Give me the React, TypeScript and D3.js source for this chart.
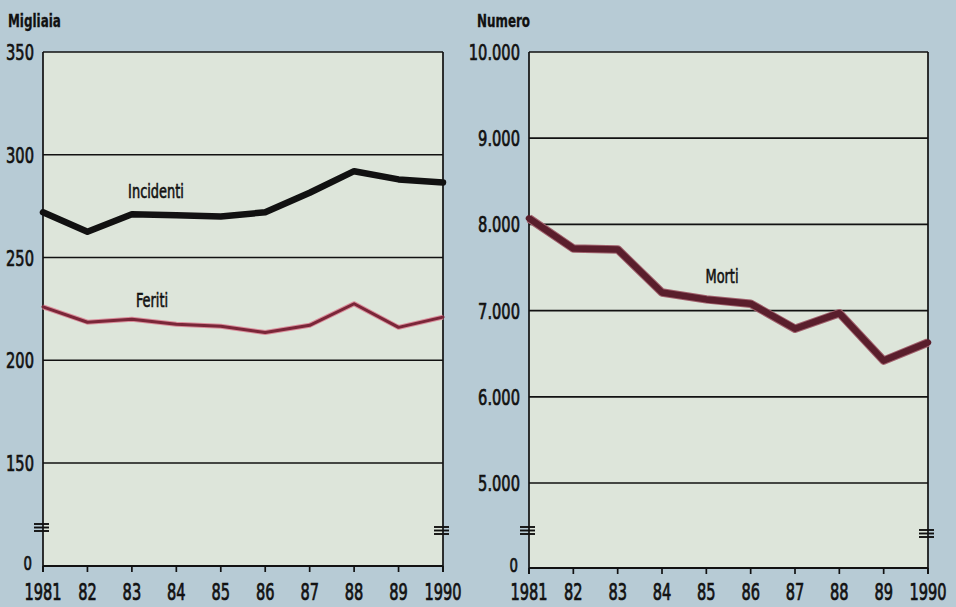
import React from "react";
import * as d3 from "d3";

const years = [1981, 1982, 1983, 1984, 1985, 1986, 1987, 1988, 1989, 1990];
const yearLabels = ["1981", "82", "83", "84", "85", "86", "87", "88", "89", "1990"];
const incidenti = [272, 262.5, 271, 270.5, 270, 272, 281.5, 292, 288, 286.5];
const feriti = [226, 218.5, 220, 217.5, 216.5, 213.5, 217, 227.5, 216, 221];
const morti = [8070, 7720, 7710, 7210, 7130, 7080, 6790, 6970, 6420, 6630];
const leftTicks = [0, 150, 200, 250, 300, 350];
const rightTicks = [0, 5000, 6000, 7000, 8000, 9000, 10000];

const FONT = "'Liberation Sans Narrow', 'Arial Narrow', 'DejaVu Sans Condensed', sans-serif";
const BG = "#b7cbd5";
const PLOT = "#dde5da";

function SqText({ x, y, size, anchor, sx = 0.76, weight = "normal", sw = 0.7, children }: any) {
  return (
    <text
      transform={`translate(${x},${y}) scale(${sx},1)`}
      fontFamily={FONT}
      fontSize={size}
      fontWeight={weight}
      textAnchor={anchor}
      fill="#111"
      stroke="#111"
      strokeWidth={sw}
    >
      {children}
    </text>
  );
}

function Panel({ x0, x1, yTop, yZero, yBreakTop, domainBreak, domainTop, ticks, fmt, series, unit, unitX, breakY }: any) {
  const x = d3.scaleLinear().domain([1981, 1990]).range([x0, x1]);
  const y = d3.scaleLinear().domain([0, domainBreak, domainTop]).range([yZero, yBreakTop, yTop]);
  const line = d3.line<number>().x((_, i) => x(years[i])).y((d) => y(d));
  return (
    <g>
      <rect x={x0} y={yTop} width={x1 - x0} height={yZero - yTop} fill={PLOT} />
      {ticks.filter((t: number) => t > 0).map((t: number) => (
        <line key={t} x1={x0} x2={x1} y1={y(t)} y2={y(t)} stroke="#111" strokeWidth={1.7} />
      ))}
      <line x1={x0} x2={x0} y1={yTop} y2={yZero + 6} stroke="#111" strokeWidth={1.7} />
      <line x1={x1} x2={x1} y1={yTop} y2={yZero + 6} stroke="#111" strokeWidth={1.7} />
      <line x1={x0} x2={x1} y1={yZero} y2={yZero} stroke="#111" strokeWidth={1.9} />
      {years.map((yr) => (
        <line key={yr} x1={x(yr)} x2={x(yr)} y1={yZero} y2={yZero + 6} stroke="#111" strokeWidth={1.7} />
      ))}
      {[x0, x1].map((bx, k) => (
        <g key={k}>
          {[0, 3.5, 7].map((dy) => (
            <line key={dy} x1={bx - 9} x2={bx + 6} y1={breakY + k * 3 + dy} y2={breakY + k * 3 + dy} stroke="#111" strokeWidth={1.9} />
          ))}
        </g>
      ))}
      {series.map((s: any, i: number) => (
        <g key={i}>
          {s.halo && (
            <path d={line(s.values) as string} fill="none" stroke={s.halo} strokeWidth={s.width + 2} strokeLinejoin="round" />
          )}
          <path d={line(s.values) as string} fill="none" stroke={s.color} strokeWidth={s.width} strokeLinejoin="round" strokeLinecap="round" />
          <SqText x={s.lx} y={s.ly} size={20} anchor="middle" sx={0.72} sw={0.6}>{s.label}</SqText>
        </g>
      ))}
      {ticks.map((t: number) => (
        <SqText key={t} x={t === 0 ? x0 - 11 : x0 - 9} y={t === 0 ? y(t) + 4 : y(t) + 8} size={t === 0 ? 20 : 22} anchor="end" sx={0.74}>{fmt(t)}</SqText>
      ))}
      {years.map((yr, i) => (
        <SqText key={yr} x={x(yr)} y={600} size={22.5} anchor="middle" sx={0.72}>{yearLabels[i]}</SqText>
      ))}
      <SqText x={unitX} y={27} size={17} anchor="start" sx={0.78} weight="bold" sw={0.3}>{unit}</SqText>
    </g>
  );
}

const fmtLeft = (v: number) => String(v);
const fmtRight = (v: number) => (v === 0 ? "0" : d3.format(",")(v).replace(/,/g, "."));

export default function App() {
  return (
    <svg width={956} height={607} style={{ position: "absolute", left: 0, top: 0 }}>
      <rect x={0} y={0} width={956} height={607} fill={BG} />
      <Panel
        x0={43}
        x1={443}
        yTop={52}
        yZero={566}
        yBreakTop={463}
        domainBreak={150}
        domainTop={350}
        ticks={leftTicks}
        fmt={fmtLeft}
        unit="Migliaia"
        unitX={8}
        breakY={524}
        series={[
          { values: incidenti, color: "#111", width: 6.5, label: "Incidenti", lx: 156, ly: 198 },
          { values: feriti, color: "#7a2638", halo: "#d98c9a", width: 3, label: "Feriti", lx: 152, ly: 307 },
        ]}
      />
      <Panel
        x0={529}
        x1={928}
        yTop={52}
        yZero={568}
        yBreakTop={483}
        domainBreak={5000}
        domainTop={10000}
        ticks={rightTicks}
        fmt={fmtRight}
        unit="Numero"
        unitX={477}
        breakY={527}
        series={[
          { values: morti, color: "#5a1e2c", halo: "#a0606c", width: 6.5, label: "Morti", lx: 722, ly: 283 },
        ]}
      />
    </svg>
  );
}
